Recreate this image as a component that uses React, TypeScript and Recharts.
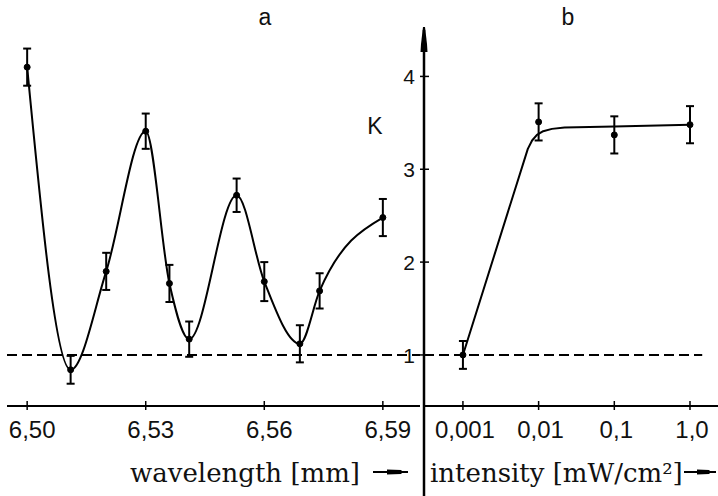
import React from "react";
import { LineChart, Line, XAxis, YAxis, ErrorBar, ReferenceLine } from "recharts";

// panel a: K vs wavelength
const wavelength = [6.5, 6.511, 6.52, 6.53, 6.536, 6.541, 6.553, 6.56, 6.569, 6.574, 6.59];
const kWave = [4.1, 0.84, 1.9, 3.41, 1.77, 1.17, 2.72, 1.79, 1.12, 1.69, 2.48];
const errWave = [0.2, 0.15, 0.2, 0.19, 0.2, 0.19, 0.18, 0.21, 0.2, 0.19, 0.2];
const waveTicks = [6.5, 6.53, 6.56, 6.59];
const waveLabels = ["6,50", "6,53", "6,56", "6,59"];

// panel b: K vs intensity
const intensity = [0.001, 0.01, 0.1, 1.0];
const kIntensity = [1.0, 3.51, 3.37, 3.48];
const errIntensity = [0.15, 0.2, 0.2, 0.2];
// fitted curve
const fitIntensity = [0.001, 0.0072, 0.0082, 0.0095, 0.0115, 0.015, 0.022, 0.1, 1.0];
const fitK = [1.0, 3.22, 3.31, 3.37, 3.41, 3.435, 3.45, 3.46, 3.48];
const intensityTicks = [0.001, 0.01, 0.1, 1];
const intensityLabels = ["0,001", "0,01", "0,1", "1,0"];
const kTicks = [1, 2, 3, 4];

const waveData = wavelength.map((w, i) => ({ x: w, k: kWave[i], err: errWave[i] }));
const intData = intensity.map((v, i) => ({ x: v, k: kIntensity[i], err: errIntensity[i] }));
const fitData = fitIntensity.map((v, i) => ({ x: v, k: fitK[i] }));

const SANS = "'Liberation Sans', Arial, Helvetica, sans-serif";
const SERIF = "'DejaVu Serif', 'Liberation Serif', serif";

const idx = (list: number[], v: number) => list.findIndex((t) => Math.abs(t - v) < 1e-9);

const xTick = (ticks: number[], labels: string[], dx: number) => (props: any) => {
  const { x, y, payload } = props;
  const i = idx(ticks, payload.value);
  return (
    <g>
      <line x1={x} x2={x} y1={y - 5} y2={y + 4} stroke="#000" strokeWidth={1.5} />
      <text x={x + dx} y={y + 32} textAnchor="middle" fontSize={24} fontFamily={SANS} fill="#111">
        {labels[i]}
      </text>
    </g>
  );
};

const yTick = (props: any) => {
  const { x, y, payload } = props;
  return (
    <g>
      <line x1={x - 4} x2={x + 5} y1={y} y2={y} stroke="#000" strokeWidth={1.5} />
      <text x={x - 9} y={y + 8} textAnchor="end" fontSize={21} fontFamily={SANS} fill="#111">
        {payload.value}
      </text>
    </g>
  );
};

const dot = { r: 3, fill: "#000", stroke: "#000", strokeWidth: 1 };

export default function App() {
  return (
    <div
      style={{
        position: "fixed",
        left: 0,
        top: 0,
        width: 718,
        height: 496,
        background: "#fff",
        overflow: "hidden",
      }}
    >
      <div style={{ position: "absolute", left: 0, top: 0 }}>
        <LineChart width={430} height={496} data={waveData} margin={{ top: 30, right: 10, bottom: 0, left: 7 }}>
          <XAxis
            dataKey="x"
            type="number"
            domain={[6.4949, 6.5994]}
            allowDataOverflow
            ticks={waveTicks}
            tick={xTick(waveTicks, waveLabels, 5)}
            tickLine={false}
            tickSize={0}
            tickMargin={0}
            height={90}
            axisLine={{ stroke: "#000", strokeWidth: 2 }}
          />
          <YAxis hide type="number" domain={[0.45, 4.5]} allowDataOverflow />
          <ReferenceLine y={1} stroke="#000" strokeWidth={2} strokeDasharray="10 5" />
          <Line
            dataKey="k"
            type="monotone"
            stroke="#000"
            strokeWidth={2}
            dot={dot}
            activeDot={false}
            isAnimationActive={false}
          >
            <ErrorBar dataKey="err" width={4} stroke="#000" strokeWidth={2} direction="y" />
          </Line>
        </LineChart>
      </div>

      <div style={{ position: "absolute", left: 349, top: 0 }}>
        <LineChart width={369} height={496} margin={{ top: 30, right: 0, bottom: 0, left: 0 }}>
          <XAxis
            dataKey="x"
            type="number"
            scale="log"
            domain={[0.000306, 2.344]}
            allowDataOverflow
            ticks={intensityTicks}
            tick={xTick(intensityTicks, intensityLabels, 2)}
            tickLine={false}
            tickSize={0}
            tickMargin={0}
            height={90}
            axisLine={{ stroke: "#000", strokeWidth: 2 }}
          />
          <YAxis
            type="number"
            domain={[0.45, 4.5]}
            allowDataOverflow
            ticks={kTicks}
            tick={yTick}
            tickLine={false}
            tickSize={0}
            tickMargin={0}
            width={75}
            axisLine={{ stroke: "#000", strokeWidth: 2.5 }}
          />
          <ReferenceLine
            segment={[
              { x: 0.000306, y: 1 },
              { x: 1.45, y: 1 },
            ]}
            stroke="#000"
            strokeWidth={2}
            strokeDasharray="10 5"
          />
          <Line
            data={fitData}
            dataKey="k"
            type="linear"
            stroke="#000"
            strokeWidth={2}
            strokeLinejoin="round"
            dot={false}
            activeDot={false}
            isAnimationActive={false}
          />
          <Line
            data={intData}
            dataKey="k"
            stroke="none"
            dot={dot}
            activeDot={false}
            isAnimationActive={false}
          >
            <ErrorBar dataKey="err" width={4} stroke="#000" strokeWidth={2} direction="y" />
          </Line>
        </LineChart>
      </div>

      <svg
        width={718}
        height={496}
        style={{ position: "absolute", left: 0, top: 0, pointerEvents: "none" }}
      >
        {/* axis arrow head and axis extension */}
        <polygon points="423,27 425,27 427,44 427.5,52 420.5,52 421,44" fill="#000" />
        <line x1={424} x2={424} y1={406} y2={496} stroke="#000" strokeWidth={2.5} />
        <text x={265} y={25} textAnchor="middle" fontSize={23} fontFamily={SANS} fill="#111">
          a
        </text>
        <text x={568} y={25} textAnchor="middle" fontSize={23} fontFamily={SANS} fill="#111">
          b
        </text>
        <text x={375} y={134} textAnchor="middle" fontSize={23} fontFamily={SANS} fill="#111">
          K
        </text>
        <text x={130} y={482} fontSize={26} fontFamily={SERIF} fill="#111">
          wavelength [mm]
        </text>
        <line x1={373} x2={408} y1={472} y2={472} stroke="#000" strokeWidth={2} />
        <polygon points="387,469.5 401,470 403,472 401,474 387,474.5" fill="#000" />
        <text x={430} y={482} fontSize={26} fontFamily={SERIF} fill="#111">
          intensity [mW/cm²]
        </text>
        <line x1={684} x2={716} y1={472} y2={472} stroke="#000" strokeWidth={2} />
        <polygon points="697,469.5 709,470 711,472 709,474 697,474.5" fill="#000" />
      </svg>
    </div>
  );
}
